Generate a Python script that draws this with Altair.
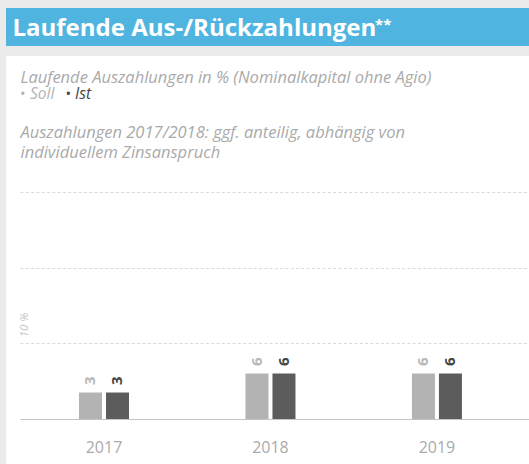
import altair as alt
import pandas as pd

# ---- data ----
years = ["2017", "2018", "2019"]
series = ["Soll", "Ist"]
soll_values = [3.5, 6, 6]
ist_values = [3.5, 6, 6]
soll_labels = ["3", "6", "6"]
ist_labels = ["3", "6", "6"]
grid_values = [10, 20, 30]

rows = []
for i, yr in enumerate(years):
    rows.append({"year": yr, "series": "Soll", "value": soll_values[i], "label": soll_labels[i]})
    rows.append({"year": yr, "series": "Ist", "value": ist_values[i], "label": ist_labels[i]})
df = pd.DataFrame(rows)
one = pd.DataFrame({"k": [0]})

FONT = "Open Sans"
PAD_L, PAD_T, PAD_B = 20, 192, 45
W, H = 509, 227


def px(x):
    return x - PAD_L


def py(y):
    return y - PAD_T


x_enc = alt.X(
    "year:N", sort=years,
    scale=alt.Scale(paddingInner=0.6997, paddingOuter=0.3785, align=0.468),
    axis=alt.Axis(title=None, labelAngle=0, ticks=False, labelPadding=20,
                  labelFontSize=16, labelColor="#aaaaaa", labelFont=FONT,
                  domainColor="#c4c4c4", domainWidth=1, grid=False, zindex=1),
)
xo_enc = alt.XOffset("series:N", sort=series,
                     scale=alt.Scale(paddingInner=0.148, paddingOuter=0))
y_enc = alt.Y(
    "value:Q",
    scale=alt.Scale(domain=[0, 30], nice=False, zero=True),
    axis=alt.Axis(title=None, values=grid_values, labels=False, ticks=False,
                  domain=False, grid=True, gridDash=[3, 2.3],
                  gridColor="#d9d9d9", gridWidth=1, zindex=1),
)

blue_bar = alt.Chart(one).mark_rect(color="#4fb5e0").encode(
    x=alt.value(px(6)), x2=alt.value(px(529)),
    y=alt.value(py(8)), y2=alt.value(py(46)))
white_panel = alt.Chart(one).mark_rect(color="#ffffff").encode(
    x=alt.value(px(6)), x2=alt.value(px(529)),
    y=alt.value(py(56)), y2=alt.value(py(464)))


def txt(s, x, y, size, color, weight="normal", style="normal"):
    return alt.Chart(one).mark_text(
        text=s, align="left", baseline="alphabetic", font=FONT,
        fontSize=size, color=color, fontWeight=weight, fontStyle=style,
    ).encode(x=alt.value(px(x)), y=alt.value(py(y)))


title = txt("Laufende Aus-/Rückzahlungen", 12.5, 35.5, 24, "#ffffff", weight="bold")
stars = txt("**", 375, 30, 15, "#ffffff", weight="bold")
sub1 = txt("Laufende Auszahlungen in % (Nominalkapital ohne Agio)", 20.5, 82.6, 16.5, "#aaaaaa", style="italic")
bul1 = txt("•", 20, 99, 15, "#b3b3b3")
leg1 = txt("Soll", 30, 99, 15.5, "#b3b3b3", style="italic")
bul2 = txt("•", 65.5, 99, 15, "#444444")
leg2 = txt("Ist", 75, 99, 15.5, "#444444", style="italic")
note1 = txt("Auszahlungen 2017/2018: ggf. anteilig, abhängig von", 20.5, 138.3, 16.5, "#aaaaaa", style="italic")
note2 = txt("individuellem Zinsanspruch", 20.5, 158, 16.5, "#aaaaaa", style="italic")

ten = alt.Chart(one).mark_text(
    text="10 %", angle=270, align="left", baseline="middle", font=FONT,
    fontSize=11.5, fontStyle="italic", color="#c4c4c4", dx=6,
).encode(x=alt.value(px(25)), y=alt.datum(10))

bars = alt.Chart(df).mark_bar().encode(
    x=x_enc, xOffset=xo_enc, y=y_enc,
    color=alt.Color("series:N", sort=series,
                    scale=alt.Scale(domain=series, range=["#b3b3b3", "#5c5c5c"]),
                    legend=None),
)
labels = alt.Chart(df).mark_text(
    angle=270, align="left", baseline="middle", dx=7.5, font=FONT,
    fontSize=15, fontWeight="bold",
).encode(
    x=x_enc, xOffset=xo_enc, y=y_enc, text="label:N",
    color=alt.Color("series:N", sort=series,
                    scale=alt.Scale(domain=series, range=["#b8b8b8", "#454545"]),
                    legend=None),
)

chart = alt.layer(
    blue_bar, white_panel, bars, labels, ten,
    title, stars, sub1, bul1, leg1, bul2, leg2, note1, note2,
).resolve_scale(color="independent").properties(
    width=W, height=H,
    padding={"left": PAD_L, "top": PAD_T, "right": 0, "bottom": PAD_B},
    autosize=alt.AutoSizeParams(type="none"),
    background="#ebebeb",
).configure_view(stroke=None).configure(font=FONT)

chart.save("out.html", embed_options={"renderer": "svg", "actions": False})
